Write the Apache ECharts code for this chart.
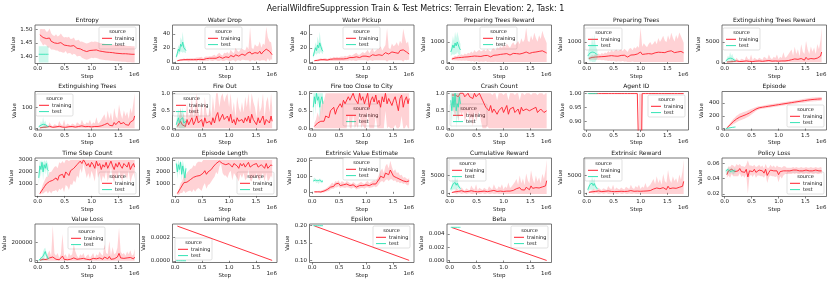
<!DOCTYPE html>
<html><head><meta charset="utf-8">
<script src="https://cdn.jsdelivr.net/npm/echarts@6/dist/echarts.min.js"></script>
<style>html,body{margin:0;padding:0;background:#fff}#c{width:831px;height:283px}</style>
</head><body><div id="c"></div>
<script>
// ---------- DATA (steps in thousands) ----------
const STEPS_K = [40,70,100,130,160,190,220,250,280,310,340,370,400,430,460,490,520,550,580,610,640,670,700,730,760,790,820,850,880,910,940,970,1000,1030,1060,1090,1120,1150,1180,1210,1240,1270,1300,1330,1360,1390,1420,1450,1480,1510,1540,1570,1600,1630,1660,1690,1720,1750,1780,1800];
const TEST_STEPS_K = [20,40,60,80,100,120,140,160,180,200];
const LINEAR_STEPS_K = [40,1800];
const X_TICKS = [0,500000,1000000,1500000];

const ENTROPY_TRAIN = [1.480,1.476,1.470,1.473,1.466,1.462,1.468,1.456,1.452,1.450,
1.452,1.448,1.447,1.451,1.445,1.442,1.446,1.440,1.443,1.438,
1.435,1.440,1.433,1.430,1.432,1.428,1.425,1.422,1.420,1.418,
1.420,1.422,1.425,1.423,1.425,1.424,1.422,1.420,1.419,1.418,
1.417,1.416,1.416,1.415,1.414,1.414,1.413,1.412,1.412,1.411,
1.411,1.410,1.410,1.410,1.409,1.409,1.409,1.408,1.408,1.408];
const ENTROPY_TRAIN_SD = [0.020,0.025,0.030,0.028,0.025,0.030,0.035,0.030,0.026,0.025,
0.030,0.026,0.030,0.034,0.030,0.028,0.026,0.030,0.030,0.026,
0.030,0.030,0.026,0.030,0.030,0.026,0.030,0.030,0.030,0.030,
0.030,0.030,0.030,0.030,0.030,0.030,0.030,0.030,0.030,0.030,
0.030,0.030,0.030,0.030,0.030,0.030,0.030,0.030,0.030,0.030,
0.030,0.030,0.030,0.030,0.030,0.030,0.030,0.030,0.030,0.030];
const ENTROPY_TEST = [1.408,1.408,1.408,1.408,1.408,1.408,1.408,1.408,1.408,1.408];
const ENTROPY_TEST_SD = [0.03,0.03,0.03,0.03,0.03,0.03,0.03,0.03,0.03,0.03];

const WATER_DROP_TRAIN = [1.5,2,2.5,2,3,2.5,3,2.5,3,3,
3,3.5,3,4,3.5,4,3,4,4.5,4,
5,4.5,5,6,5,6,7,6,5,7,
7,8,6,9,8,7,10,9,8,9,
11,10,9,12,10,14,11,10,13,12,
12,15,11,14,13,18,20,15,16,10];
const WATER_DROP_TRAIN_SD = [1,1,1.5,1,2,1.5,2,2,2,2,
2,2,3,2,3,3,2,3,3,3,
3,3,4,4,3,5,6,4,4,6,
5,6,5,8,6,5,10,7,6,8,
8,7,7,10,8,35,9,8,12,10,
10,14,9,12,11,32,15,14,12,8];
const WATER_DROP_TEST = [7,12,18,15,25,22,28,20,18,16];
const WATER_DROP_TEST_SD = [3,4,6,5,10,8,15,6,5,4];

const WATER_PICKUP_TRAIN = [1.5,2,2,2.5,3,2.5,3,3,2.5,3,
3.5,3,4,3.5,4,3.5,4,4.5,4,5,
4.5,5,6,5,6,6.5,7,6,6,7,
8,7,8,9,7,9,10,8,9,10,
10,12,9,11,13,15,11,10,14,12,
13,15,12,16,14,17,19,14,16,11];
const WATER_PICKUP_TRAIN_SD = [1,1,1.5,1.5,2,1.5,2,2,1.5,2,
2.5,2,3,2.5,3,2.5,3,3,3,3.5,
3,3.5,4,3.5,4,5,6,4,4,5,
6,5,6,8,5,7,9,6,7,8,
8,10,7,9,11,33,9,8,12,10,
11,13,10,14,12,30,16,12,13,8];
const WATER_PICKUP_TEST = [8,14,20,16,24,20,27,22,17,15];
const WATER_PICKUP_TEST_SD = [3,5,8,6,12,8,16,7,5,4];

const PREP_REWARD_TRAIN = [150,170,200,180,220,200,230,210,250,230,
260,240,280,250,300,270,290,310,280,300,
320,290,330,300,260,320,340,300,350,330,
380,350,400,360,420,380,350,400,430,390,
420,450,400,480,440,470,500,460,430,520,
480,550,500,460,530,490,560,520,480,450];
const PREP_REWARD_TRAIN_SD = [60,80,120,100,150,120,160,130,180,150,
200,180,250,200,300,220,260,300,250,280,
300,250,320,280,250,330,350,280,380,340,
400,350,450,380,500,420,360,480,550,450,
500,600,480,700,550,650,1200,600,550,800,
600,900,700,550,800,650,1000,750,600,500];
const PREP_REWARD_TEST = [500,650,850,700,950,800,1000,850,700,600];
const PREP_REWARD_TEST_SD = [200,300,450,350,550,400,500,450,350,300];

const PREP_TREES_TRAIN = [180,200,230,210,250,230,260,240,270,250,
280,260,300,270,320,290,300,320,290,310,
330,300,340,310,250,330,350,310,360,340,
400,360,500,380,450,400,370,420,450,400,
430,460,410,490,450,480,510,470,440,530,
490,560,510,470,540,500,570,530,490,460];
const PREP_TREES_TRAIN_SD = [60,80,120,100,150,120,160,130,180,150,
200,180,250,200,280,220,260,300,250,280,
300,250,320,280,250,330,350,280,380,340,
400,350,1200,380,480,420,360,480,550,450,
500,600,480,700,550,650,800,600,550,800,
600,900,700,550,800,650,900,750,600,500];
const PREP_TREES_TEST = [300,380,450,400,500,420,480,450,400,380];
const PREP_TREES_TEST_SD = [150,250,500,350,800,450,900,500,300,200];

const EXT_REWARD_TRAIN = [50,80,100,200,150,120,300,200,150,250,
200,150,300,250,200,400,150,300,250,200,
300,250,200,350,300,250,400,300,250,350,
300,400,250,350,300,450,300,350,400,500,
600,400,800,500,700,400,900,600,500,1200,
700,500,900,600,800,500,1000,700,1500,2500];
const EXT_REWARD_TRAIN_SD = [50,100,150,500,300,200,800,400,300,600,
500,300,1200,600,400,1500,300,800,600,400,
800,600,400,1000,800,500,1500,700,500,1000,
700,1500,500,1000,700,2000,800,1000,1500,2000,
2500,1200,3000,1500,2500,1000,3500,2000,1500,4000,
2500,1500,3000,2000,2800,1500,3500,2500,4000,6000];
const EXT_REWARD_TEST = [300,500,800,600,1000,700,900,600,500,400];
const EXT_REWARD_TEST_SD = [200,400,800,600,1500,800,1200,600,400,300];

const EXT_TREES_TRAIN = [2,3,5,8,6,4,10,7,5,8,
7,5,10,8,6,12,5,9,8,6,
9,8,6,10,9,7,12,9,8,10,
9,12,7,10,9,14,9,10,12,15,
18,12,25,15,22,12,28,18,15,35,
22,15,28,18,25,15,30,22,40,60];
const EXT_TREES_TRAIN_SD = [2,3,4,10,6,4,20,8,5,12,
10,6,25,12,8,30,6,15,10,8,
15,12,8,20,15,10,30,14,10,20,
14,30,10,20,14,40,15,20,30,40,
50,25,60,30,55,20,70,40,30,80,
50,30,60,40,55,30,70,50,90,110];
const EXT_TREES_TEST = [8,10,15,12,20,15,18,12,10,8];
const EXT_TREES_TEST_SD = [4,6,20,10,35,12,20,8,6,4];

const FIRE_OUT_TRAIN = [0.05,0.1,0.2,0.1,0.15,0.05,0.25,0.1,0.15,0.3,
0.1,0.2,0.35,0.15,0.1,0.25,0.05,0.3,0.15,0.1,
0.2,0.1,0.3,0.15,0.35,0.45,0.2,0.3,0.4,0.25,
0.3,0.35,0.2,0.4,0.15,0.25,0.1,0.3,0.2,0.15,
0.25,0.15,0.3,0.2,0.35,0.15,0.4,0.25,0.2,0.1,
0.3,0.15,0.2,0.35,0.1,0.25,0.3,0.15,0.35,0.2];
const FIRE_OUT_TRAIN_SD = [0.1,0.2,0.4,0.2,0.3,0.1,0.5,0.2,0.3,0.6,
0.2,0.4,0.7,0.3,0.2,0.5,0.1,0.6,0.3,0.2,
0.4,0.2,0.6,0.3,0.7,0.6,0.4,0.6,0.6,0.5,
0.6,0.7,0.4,0.6,0.3,0.5,0.2,0.6,0.4,0.3,
0.5,0.3,0.6,0.4,0.65,0.3,0.6,0.5,0.4,0.2,
0.6,0.3,0.4,0.65,0.2,0.5,0.6,0.3,0.65,0.4];
const FIRE_OUT_TEST = [0.1,0.2,0.3,0.15,0.25,0.2,0.3,0.15,0.1,0.2];
const FIRE_OUT_TEST_SD = [0.1,0.2,0.25,0.15,0.3,0.2,0.3,0.15,0.1,0.15];

const FIRE_CITY_TRAIN = [0.05,0.1,0.15,0.1,0.2,0.25,0.2,0.35,0.4,0.3,
0.5,0.45,0.6,0.4,0.55,0.5,0.7,0.6,0.8,0.7,
0.65,0.9,0.8,0.75,1.0,0.85,0.9,0.7,1.0,0.8,
0.9,0.7,0.85,1.0,0.6,0.8,0.9,0.75,0.95,0.7,
0.8,0.6,0.9,0.75,1.0,0.7,0.85,0.9,0.65,0.8,
0.9,0.7,0.5,0.85,0.95,0.6,0.8,0.9,0.7,0.85];
const FIRE_CITY_TRAIN_SD = [0.1,0.15,0.3,0.2,0.4,0.5,0.6,0.7,0.8,0.8,
0.9,0.8,0.9,0.8,0.9,0.9,1,0.9,0.8,0.9,
0.9,0.5,0.8,0.9,0.6,0.9,0.8,0.9,0.5,0.9,
0.8,0.9,0.9,0.5,0.9,0.8,0.9,0.9,0.6,0.9,
0.9,0.8,0.9,0.9,0.5,0.9,0.8,0.9,0.9,0.8,
0.8,0.9,0.9,0.8,0.6,0.9,0.9,0.8,0.9,0.9];
const FIRE_CITY_TEST = [0.6,0.9,0.7,1.0,0.8,0.9,0.6,0.8,0.9,0.7];
const FIRE_CITY_TEST_SD = [0.4,0.1,0.3,0,0.2,0.1,0.4,0.2,0.1,0.3];

const CRASH_TRAIN = [0.95,1.0,0.95,1.0,0.9,1.0,0.95,1.0,0.9,0.95,
1.0,0.9,0.95,0.85,1.0,0.9,0.95,1.0,0.9,0.8,
0.7,0.6,0.55,0.5,0.65,0.45,0.55,0.6,0.4,0.5,
0.55,0.6,0.45,0.5,0.65,0.4,0.55,0.5,0.6,0.45,
0.5,0.55,0.4,0.6,0.5,0.45,0.55,0.6,0.5,0.45,
0.55,0.5,0.6,0.45,0.5,0.55,0.5,0.45,0.5,0.5];
const CRASH_TRAIN_SD = [0.3,0.5,0.6,0.5,0.7,0.5,0.6,0.5,0.7,0.6,
0.5,0.7,0.6,0.8,0.5,0.7,0.6,0.5,0.7,0.8,
0.7,0.6,0.5,0.6,0.7,0.5,0.6,0.7,0.4,0.5,
0.6,0.7,0.5,0.6,0.7,0.4,0.6,0.5,0.7,0.5,
0.5,0.6,0.4,0.7,0.5,0.5,0.6,0.7,0.5,0.5,
0.6,0.5,0.7,0.5,0.5,0.6,0.5,0.5,0.5,0.5];
const CRASH_TEST = [0.8,0.5,0.9,0.6,1.0,0.5,0.7,0.6,0.9,0.7];
const CRASH_TEST_SD = [0.2,0.5,0.1,0.4,0,0.5,0.3,0.4,0.1,0.3];

const AGENT_TRAIN = [1,1,1,1,1,1,1,1,1,1,
1,1,1,1,1,1,1,1,1,1,
1,1,1,1,1,1,1,1,1,1,
1,1,0.5,1,1,1,1,1,1,1,
1,1,1,1,1,1,1,1,1,1,
1,1,1,1,1,1,1,1,1,1];
const AGENT_TRAIN_SD = [0,0,0,0,0,0,0,0,0,0,
0,0,0,0,0,0,0,0,0,0,
0,0,0,0,0,0,0,0,0,0,
0,0,0.5,0,0,0,0,0,0,0,
0,0,0,0,0,0,0,0,0,0,
0,0,0,0,0,0,0,0,0,0];
const AGENT_TEST = [1,1,1,1,1,1,1,1,1,1];
const AGENT_TEST_SD = [0,0,0,0,0,0,0,0,0,0];

const EPISODE_TRAIN = [10,35,60,85,110,130,150,165,180,190,
200,210,220,232,245,260,275,290,305,318,
325,330,334,338,342,346,350,354,358,362,
366,370,374,378,382,386,390,394,398,402,
406,410,414,418,422,426,430,434,438,442,
446,449,452,455,457,459,461,463,464,465];
const EPISODE_TRAIN_SD = [5,15,25,35,40,45,50,50,55,55,
55,55,50,50,48,45,40,35,30,28,
25,25,25,25,25,25,25,25,25,25,
25,25,25,25,25,25,25,25,25,25,
25,25,25,25,25,25,25,28,30,30,
30,30,30,30,30,30,30,30,30,30];
const EPISODE_TEST = [0,4,7,10,13,16,19,21,23,25];
const EPISODE_TEST_SD = [1,2,2,3,3,3,3,3,3,3];

const TIME_STEP_TRAIN = [200,400,600,800,1000,900,1200,1100,1300,1400,
1500,1300,1700,1600,1800,1500,2000,1900,1700,2100,
2000,2300,2200,2600,2500,2900,2700,3000,2800,2500,
2700,2400,2800,2600,2300,2900,2500,2700,2200,2600,
2400,2800,2300,2600,2900,2500,2200,2700,2400,2800,
2500,2300,2700,2600,2400,2800,2200,2500,2700,2400];
const TIME_STEP_TRAIN_SD = [100,200,400,500,600,700,800,900,900,1000,
1000,1000,1100,1100,1100,1200,1100,1100,1200,1100,
1100,1000,1100,900,1000,600,800,300,700,1000,
800,1000,700,900,1100,500,1000,800,1100,900,
1000,700,1100,900,500,1000,1100,800,1000,700,
900,1100,800,900,1000,700,1100,900,800,1000];
const TIME_STEP_TEST = [1500,2500,2200,2800,2000,2600,2300,2700,2200,2100];
const TIME_STEP_TEST_SD = [500,500,600,300,700,400,500,300,600,500];

const EP_LENGTH_TRAIN = [200,350,650,750,1100,950,1150,1250,1350,1300,
1550,1400,1650,1750,1700,1600,1900,2100,1800,2000,
2100,2200,2400,2500,2700,2600,2900,3000,2700,2600,
2600,2500,2700,2800,2400,2700,2600,2500,2300,2700,
2500,2700,2400,2500,2800,2400,2300,2600,2500,2700,
2400,2400,2600,2700,2300,2700,2300,2400,2600,2500];
const EP_LENGTH_TRAIN_SD = [100,250,400,500,650,700,800,850,900,1000,
1000,1050,1100,1100,1150,1200,1100,1050,1200,1100,
1100,1000,1000,900,700,800,500,300,800,900,
900,1000,800,700,1100,800,900,1000,1100,900,
1000,800,1100,1000,600,1100,1100,900,1000,800,
1000,1100,900,800,1100,800,1100,1000,900,1000];
const EP_LENGTH_TEST = [2700,2000,2600,2200,2800,1800,2500,2000,1500,2300];
const EP_LENGTH_TEST_SD = [300,600,400,500,200,600,500,600,500,400];

const EXT_VALUE_TRAIN = [0,-2,0,2,-1,3,5,10,15,20,
30,40,35,50,45,55,40,50,45,40,
50,45,40,35,45,40,30,35,40,45,
40,35,45,50,40,45,50,55,50,60,
80,100,110,90,120,130,110,140,120,100,
110,90,95,80,85,70,75,65,60,70];
const EXT_VALUE_TRAIN_SD = [5,5,5,5,8,8,10,10,12,15,
15,20,15,20,18,20,15,20,18,15,
20,18,15,15,18,15,15,15,18,20,
15,15,18,20,15,18,20,20,20,25,
30,35,40,30,45,50,40,60,40,30,
35,30,30,25,25,20,20,20,20,20];
const EXT_VALUE_TEST = [70,80,75,65,72,60,75,70,65,70];
const EXT_VALUE_TEST_SD = [10,12,10,10,10,10,12,10,10,8];

const CUM_REWARD_TRAIN = [100,200,300,500,400,300,600,400,300,500,
400,300,600,500,400,700,300,500,400,350,
500,400,350,600,500,400,700,500,400,600,
500,700,400,600,500,800,500,600,700,900,
1200,800,1500,900,1300,800,1600,1100,900,2000,
1300,900,1500,1100,1400,900,1700,1200,2000,3500];
const CUM_REWARD_TRAIN_SD = [100,200,400,800,500,400,1000,600,400,800,
600,400,1500,800,600,1800,400,1000,700,500,
1000,700,500,1300,900,600,1800,900,600,1300,
900,1800,600,1200,900,2200,900,1200,1800,2200,
2800,1500,3500,1800,2800,1400,4000,2500,1800,4500,
2800,1800,3500,2200,3000,1800,3800,2800,4500,6000];
const CUM_REWARD_TEST = [1000,1500,2500,2000,3000,2200,2800,2000,1500,1200];
const CUM_REWARD_TEST_SD = [500,800,1500,1000,2000,1200,1500,800,600,500];

const EXTR_REWARD_TRAIN = [150,250,300,450,400,350,550,400,350,450,
450,350,550,450,400,650,350,450,400,400,
450,400,400,550,450,450,650,450,450,550,
500,650,450,550,500,750,550,550,650,850,
1100,850,1400,950,1200,850,1500,1000,950,1900,
1200,950,1400,1100,1300,950,1600,1100,1900,3300];
const EXTR_REWARD_TRAIN_SD = [150,250,450,700,550,450,900,650,450,850,
650,450,1400,850,650,1700,450,1100,750,550,
1100,750,550,1200,950,650,1700,950,650,1400,
950,1700,650,1300,950,2100,950,1300,1700,2300,
2900,1600,3400,1900,2700,1500,3900,2400,1900,4700,
2700,1900,3400,2300,2900,1900,3700,2700,4400,6200];
const EXTR_REWARD_TEST = [900,1400,2400,1900,2800,2100,2700,1900,1400,1100];
const EXTR_REWARD_TEST_SD = [500,800,1400,1000,1900,1200,1500,800,600,500];

const POLICY_LOSS_TRAIN = [0.045,0.050,0.048,0.052,0.050,0.049,0.051,0.050,0.053,0.049,
0.050,0.048,0.052,0.042,0.050,0.051,0.049,0.052,0.048,0.050,
0.051,0.049,0.050,0.047,0.052,0.044,0.048,0.051,0.049,0.050,
0.048,0.050,0.045,0.049,0.047,0.050,0.051,0.050,0.050,0.050,
0.050,0.051,0.050,0.051,0.050,0.050,0.051,0.050,0.050,0.051,
0.050,0.050,0.051,0.050,0.050,0.051,0.050,0.050,0.051,0.050];
const POLICY_LOSS_TRAIN_SD = [0.004,0.006,0.007,0.006,0.007,0.006,0.008,0.007,0.006,0.007,
0.006,0.007,0.006,0.022,0.007,0.006,0.007,0.006,0.007,0.006,
0.007,0.006,0.007,0.006,0.007,0.010,0.006,0.007,0.006,0.007,
0.006,0.007,0.010,0.006,0.007,0.006,0.005,0.004,0.004,0.004,
0.004,0.004,0.004,0.004,0.004,0.004,0.004,0.004,0.004,0.004,
0.004,0.004,0.004,0.004,0.004,0.004,0.004,0.004,0.004,0.004];
const POLICY_LOSS_TEST = [0.050,0.048,0.052,0.050,0.049,0.051,0.050,0.048,0.050,0.050];
const POLICY_LOSS_TEST_SD = [0.003,0.003,0.003,0.003,0.003,0.003,0.003,0.003,0.003,0.003];

const VALUE_LOSS_TRAIN = [5000,10000,15000,8000,12000,20000,30000,15000,40000,20000,
15000,25000,10000,20000,50000,15000,20000,10000,25000,15000,
20000,30000,30000,15000,10000,20000,15000,25000,10000,15000,
20000,10000,15000,25000,10000,20000,15000,30000,20000,15000,
40000,25000,20000,45000,15000,30000,20000,25000,40000,80000,
30000,20000,25000,15000,30000,20000,35000,15000,20000,40000];
const VALUE_LOSS_TRAIN_SD = [5000,10000,20000,10000,20000,60000,80000,30000,340000,60000,
40000,60000,20000,50000,240000,40000,50000,20000,60000,40000,
50000,150000,70000,40000,20000,50000,40000,60000,20000,40000,
50000,20000,40000,60000,20000,50000,40000,70000,50000,40000,
140000,60000,50000,170000,40000,120000,50000,60000,100000,280000,
70000,50000,60000,40000,70000,50000,80000,40000,50000,90000];
const VALUE_LOSS_TEST = [5000,10000,25000,20000,50000,70000,100000,60000,40000,20000];
const VALUE_LOSS_TEST_SD = [5000,10000,25000,20000,50000,60000,40000,40000,30000,15000];

const LR_TRAIN = [0.000297,0.000003];
const LR_TRAIN_SD = [0,0];
const LR_TEST = [0,0,0,0,0,0,0,0,0,0];
const LR_TEST_SD = [0,0,0,0,0,0,0,0,0,0];

const EPSILON_TRAIN = [0.1995,0.1002];
const EPSILON_TRAIN_SD = [0,0];
const EPSILON_TEST = [0.2,0.2,0.2,0.2,0.2,0.2,0.2,0.2,0.2,0.2];
const EPSILON_TEST_SD = [0,0,0,0,0,0,0,0,0,0];

const BETA_TRAIN = [0.00497,0.00001];
const BETA_TRAIN_SD = [0,0];
const BETA_TEST = [0.005,0.005,0.005,0.005,0.005,0.005,0.005,0.005,0.005,0.005];
const BETA_TEST_SD = [0,0,0,0,0,0,0,0,0,0];

// tick labels
const T_ENTROPY = [1.40,1.45,1.50];
const T_WATER = [0,20,40];
const T_1000 = [0,1000];
const T_5000 = [0,5000];
const T_100 = [0,100];
const T_UNIT = [0,0.5,1.0];
const T_AGENT = [0.90,0.95,1.00];
const T_EPISODE = [0,200,400];
const T_STEPS = [1000,2000,3000];
const T_VALUE = [0,100,200];
const T_POLICY = [0.02,0.04,0.06];
const T_VLOSS = [0,200000];
const T_LR = [0,0.0002];
const T_EPS = [0.10,0.15,0.20];
const T_BETA = [0,0.002,0.004];

// ---------- TABLE ----------
const NO = Infinity;
const PLOTS = [
 {title:'Entropy', trS:STEPS_K, tr:ENTROPY_TRAIN, trSd:ENTROPY_TRAIN_SD, te:ENTROPY_TEST, teSd:ENTROPY_TEST_SD, y:[1.374,1.516], ticks:T_ENTROPY, dec:2, lim:[-NO,NO], leg:[99,27]},
 {title:'Water Drop', trS:STEPS_K, tr:WATER_DROP_TRAIN, trSd:WATER_DROP_TRAIN_SD, te:WATER_DROP_TEST, teSd:WATER_DROP_TEST_SD, y:[-2.5,52.5], ticks:T_WATER, dec:0, lim:[0,NO], leg:[205,27]},
 {title:'Water Pickup', trS:STEPS_K, tr:WATER_PICKUP_TRAIN, trSd:WATER_PICKUP_TRAIN_SD, te:WATER_PICKUP_TEST, teSd:WATER_PICKUP_TEST_SD, y:[-2.5,52.5], ticks:T_WATER, dec:0, lim:[0,NO], leg:[343,27]},
 {title:'Preparing Trees Reward', trS:STEPS_K, tr:PREP_REWARD_TRAIN, trSd:PREP_REWARD_TRAIN_SD, te:PREP_REWARD_TEST, teSd:PREP_REWARD_TEST_SD, y:[-70,1840], ticks:T_1000, dec:0, lim:[0,NO], leg:[480,27]},
 {title:'Preparing Trees', trS:STEPS_K, tr:PREP_TREES_TRAIN, trSd:PREP_TREES_TRAIN_SD, te:PREP_TREES_TEST, teSd:PREP_TREES_TEST_SD, y:[-70,1840], ticks:T_1000, dec:0, lim:[0,NO], leg:[585,28]},
 {title:'Extinguishing Trees Reward', trS:STEPS_K, tr:EXT_REWARD_TRAIN, trSd:EXT_REWARD_TRAIN_SD, te:EXT_REWARD_TEST, teSd:EXT_REWARD_TEST_SD, y:[-330,9180], ticks:T_5000, dec:0, lim:[0,NO], leg:[723,28]},
 {title:'Extinguishing Trees', trS:STEPS_K, tr:EXT_TREES_TRAIN, trSd:EXT_TREES_TRAIN_SD, te:EXT_TREES_TEST, teSd:EXT_TREES_TEST_SD, y:[-8,178], ticks:T_100, dec:0, lim:[0,NO], leg:[36,94]},
 {title:'Fire Out', trS:STEPS_K, tr:FIRE_OUT_TRAIN, trSd:FIRE_OUT_TRAIN_SD, te:FIRE_OUT_TEST, teSd:FIRE_OUT_TEST_SD, y:[-0.05,1.05], ticks:T_UNIT, dec:1, lim:[0,1], leg:[173,94]},
 {title:'Fire too Close to City', trS:STEPS_K, tr:FIRE_CITY_TRAIN, trSd:FIRE_CITY_TRAIN_SD, te:FIRE_CITY_TEST, teSd:FIRE_CITY_TEST_SD, y:[-0.05,1.05], ticks:T_UNIT, dec:1, lim:[0,1], leg:[343,104]},
 {title:'Crash Count', trS:STEPS_K, tr:CRASH_TRAIN, trSd:CRASH_TRAIN_SD, te:CRASH_TEST, teSd:CRASH_TEST_SD, y:[-0.05,1.05], ticks:T_UNIT, dec:1, lim:[0,1], leg:[450,104]},
 {title:'Agent ID', trS:STEPS_K, tr:AGENT_TRAIN, trSd:AGENT_TRAIN_SD, te:AGENT_TEST, teSd:AGENT_TEST_SD, y:[0.870,1.0074], ticks:T_AGENT, dec:2, lim:[0,1], leg:[648,95]},
 {title:'Episode', trS:STEPS_K, tr:EPISODE_TRAIN, trSd:EPISODE_TRAIN_SD, te:EPISODE_TEST, teSd:EPISODE_TEST_SD, y:[-22,580], ticks:T_EPISODE, dec:0, lim:[0,NO], leg:[787,105]},
 {title:'Time Step Count', trS:STEPS_K, tr:TIME_STEP_TRAIN, trSd:TIME_STEP_TRAIN_SD, te:TIME_STEP_TEST, teSd:TIME_STEP_TEST_SD, y:[-50,3160], ticks:T_STEPS, dec:0, lim:[100,3000], leg:[99,172]},
 {title:'Episode Length', trS:STEPS_K, tr:EP_LENGTH_TRAIN, trSd:EP_LENGTH_TRAIN_SD, te:EP_LENGTH_TEST, teSd:EP_LENGTH_TEST_SD, y:[-50,3160], ticks:T_STEPS, dec:0, lim:[100,3000], leg:[237,172]},
 {title:'Extrinsic Value Estimate', trS:STEPS_K, tr:EXT_VALUE_TRAIN, trSd:EXT_VALUE_TRAIN_SD, te:EXT_VALUE_TEST, teSd:EXT_VALUE_TEST_SD, y:[-30,217], ticks:T_VALUE, dec:0, lim:[-NO,NO], leg:[343,158]},
 {title:'Cumulative Reward', trS:STEPS_K, tr:CUM_REWARD_TRAIN, trSd:CUM_REWARD_TRAIN_SD, te:CUM_REWARD_TEST, teSd:CUM_REWARD_TEST_SD, y:[-1050,10030], ticks:T_5000, dec:0, lim:[-300,NO], leg:[449,159]},
 {title:'Extrinsic Reward', trS:STEPS_K, tr:EXTR_REWARD_TRAIN, trSd:EXTR_REWARD_TRAIN_SD, te:EXTR_REWARD_TEST, teSd:EXTR_REWARD_TEST_SD, y:[-1050,10030], ticks:T_5000, dec:0, lim:[-300,NO], leg:[585,159]},
 {title:'Policy Loss', trS:STEPS_K, tr:POLICY_LOSS_TRAIN, trSd:POLICY_LOSS_TRAIN_SD, te:POLICY_LOSS_TEST, teSd:POLICY_LOSS_TEST_SD, y:[0.0165,0.0668], ticks:T_POLICY, dec:2, lim:[-NO,NO], leg:[787,172]},
 {title:'Value Loss', trS:STEPS_K, tr:VALUE_LOSS_TRAIN, trSd:VALUE_LOSS_TRAIN_SD, te:VALUE_LOSS_TEST, teSd:VALUE_LOSS_TEST_SD, y:[-20000,400000], ticks:T_VLOSS, dec:0, lim:[0,NO], leg:[68,227]},
 {title:'Learning Rate', trS:LINEAR_STEPS_K, tr:LR_TRAIN, trSd:LR_TRAIN_SD, te:LR_TEST, teSd:LR_TEST_SD, y:[-0.000015,0.000315], ticks:T_LR, dec:4, lim:[-NO,NO], leg:[175,238]},
 {title:'Epsilon', trS:LINEAR_STEPS_K, tr:EPSILON_TRAIN, trSd:EPSILON_TRAIN_SD, te:EPSILON_TEST, teSd:EPSILON_TEST_SD, y:[0.094,0.205], ticks:T_EPS, dec:2, lim:[-NO,NO], leg:[373,226]},
 {title:'Beta', trS:LINEAR_STEPS_K, tr:BETA_TRAIN, trSd:BETA_TRAIN_SD, te:BETA_TEST, teSd:BETA_TEST_SD, y:[-0.0003,0.0055], ticks:T_BETA, dec:3, lim:[-NO,NO], leg:[511,226]}
];

// ---------- LAYOUT / STYLE ----------
const FONT = '"DejaVu Sans", sans-serif';
const TR_COLOR = '#ff1f2d';
const TE_COLOR = '#33e3b4';
const TR_BAND = 'rgba(255,31,45,0.2)';
const TE_BAND = 'rgba(51,227,180,0.25)';
const COL_X = [35, 172.5, 309.5, 447, 584, 722];
const ROW_Y = [25, 91.5, 158, 224];
const BOX_W = 104.5, BOX_H = 38.5;
const FS = 5.5;

const mctx = document.createElement('canvas').getContext('2d');
function textW(s, fs){ mctx.font = fs + 'px "DejaVu Sans"'; return mctx.measureText(s).width; }
function clamp(v, lim){ return Math.min(lim[1], Math.max(lim[0], v)); }

const grids = [], xAxes = [], yAxes = [], series = [], gfx = [];

// band drawn as one polygon through the axes' own scales (api.coord)
function addBand(g, stepsK, mean, sd, lim, color, z){
  const pts = stepsK.map((s,i)=>[s*1000, clamp(mean[i]-sd[i], lim), clamp(mean[i]+sd[i], lim)]);
  series.push({type:'custom', xAxisIndex:g, yAxisIndex:g, z:z, silent:true, clip:true,
    encode:{x:0, y:1},
    data: pts,
    renderItem: function(params, api){
      if (params.dataIndex !== 0) return null;
      const up = pts.map(d=>api.coord([d[0], d[2]]));
      const dn = pts.map(d=>api.coord([d[0], d[1]])).reverse();
      const cs = params.coordSys;
      return {type:'polygon', shape:{points: up.concat(dn)}, style:{fill:color, stroke:null},
        clipPath:{type:'rect', shape:{x:cs.x, y:cs.y, width:cs.width, height:cs.height}}};
    }});
}
function addLine(g, stepsK, mean, color, z){
  series.push({type:'line', xAxisIndex:g, yAxisIndex:g, symbol:'none', silent:true, z:z,
    data: stepsK.map((s,i)=>[s*1000, mean[i]]), lineStyle:{color:color, width:0.9}});
}

PLOTS.forEach((p, g)=>{
  const col = g % 6, row = Math.floor(g / 6);
  const L = COL_X[col], T = ROW_Y[row];
  grids.push({left:L, top:T, width:BOX_W, height:BOX_H, show:true, borderColor:'#555', borderWidth:0.8, backgroundColor:'transparent', containLabel:false});
  xAxes.push({type:'value', gridIndex:g, min:-50000, max:1890000,
    axisLine:{show:false}, splitLine:{show:false},
    axisTick:{show:true, length:2, customValues:X_TICKS, lineStyle:{color:'#333', width:0.6}},
    axisLabel:{customValues:X_TICKS, formatter:v=>(v/1e6).toFixed(1), fontSize:FS, fontFamily:FONT, color:'#222', margin:2.5},
    name:'Step', nameLocation:'middle', nameGap:10, nameTextStyle:{fontSize:FS, fontFamily:FONT, color:'#222'}});
  const labels = p.ticks.map(v=>v.toFixed(p.dec));
  const maxW = Math.max.apply(null, labels.map(s=>textW(s, FS)));
  yAxes.push({type:'value', gridIndex:g, min:p.y[0], max:p.y[1],
    axisLine:{show:false}, splitLine:{show:false},
    axisTick:{show:true, length:2, customValues:p.ticks, lineStyle:{color:'#333', width:0.6}},
    axisLabel:{customValues:p.ticks, formatter:v=>v.toFixed(p.dec), fontSize:FS, fontFamily:FONT, color:'#222', margin:2.5},
    name:'Value', nameLocation:'middle', nameRotate:90, nameGap: maxW + 6.5, nameTextStyle:{fontSize:FS, fontFamily:FONT, color:'#222'}});

  addBand(g, p.trS, p.tr, p.trSd, p.lim, TR_BAND, 1);
  addLine(g, p.trS, p.tr, TR_COLOR, 2);
  addBand(g, TEST_STEPS_K, p.te, p.teSd, p.lim, TE_BAND, 3);
  addLine(g, TEST_STEPS_K, p.te, TE_COLOR, 4);

  gfx.push({type:'text', x:L + BOX_W/2, y:T - 4.6, z:50, silent:true,
    style:{text:p.title, font:'6px ' + FONT, fill:'#111', align:'center', verticalAlign:'middle'}});
  gfx.push({type:'text', x:L + BOX_W, y:T + BOX_H + 11.5, z:50, silent:true,
    style:{text:'1e6', font:FS + 'px ' + FONT, fill:'#222', align:'right', verticalAlign:'middle'}});
  const lx = p.leg[0], ly = p.leg[1];
  gfx.push({type:'group', x:lx, y:ly, z:100, silent:true, children:[
    {type:'rect', shape:{x:0, y:0, width:37, height:22, r:1.5}, style:{fill:'rgba(255,255,255,0.8)', stroke:'#cccccc', lineWidth:0.6}},
    {type:'text', x:18.5, y:4.8, style:{text:'source', font:'5px ' + FONT, fill:'#111', align:'center', verticalAlign:'middle'}},
    {type:'line', shape:{x1:3, y1:11.3, x2:13, y2:11.3}, style:{stroke:TR_COLOR, lineWidth:1}},
    {type:'text', x:16, y:11.3, style:{text:'training', font:'5px ' + FONT, fill:'#111', align:'left', verticalAlign:'middle'}},
    {type:'line', shape:{x1:3, y1:17.6, x2:13, y2:17.6}, style:{stroke:TE_COLOR, lineWidth:1}},
    {type:'text', x:16, y:17.6, style:{text:'test', font:'5px ' + FONT, fill:'#111', align:'left', verticalAlign:'middle'}}
  ]});
});

gfx.push({type:'text', x:415.5, y:9, z:50, silent:true,
  style:{text:'AerialWildfireSuppression Train & Test Metrics: Terrain Elevation: 2, Task: 1', font:'8px ' + FONT, fill:'#111', align:'center', verticalAlign:'middle'}});

const chart = echarts.init(document.getElementById('c'), null, {renderer:'canvas', width:831, height:283});
chart.setOption({
  animation:false,
  backgroundColor:'#fff',
  textStyle:{fontFamily:FONT},
  grid:grids, xAxis:xAxes, yAxis:yAxes, series:series,
  graphic:{elements:gfx}
});
</script></body></html>
